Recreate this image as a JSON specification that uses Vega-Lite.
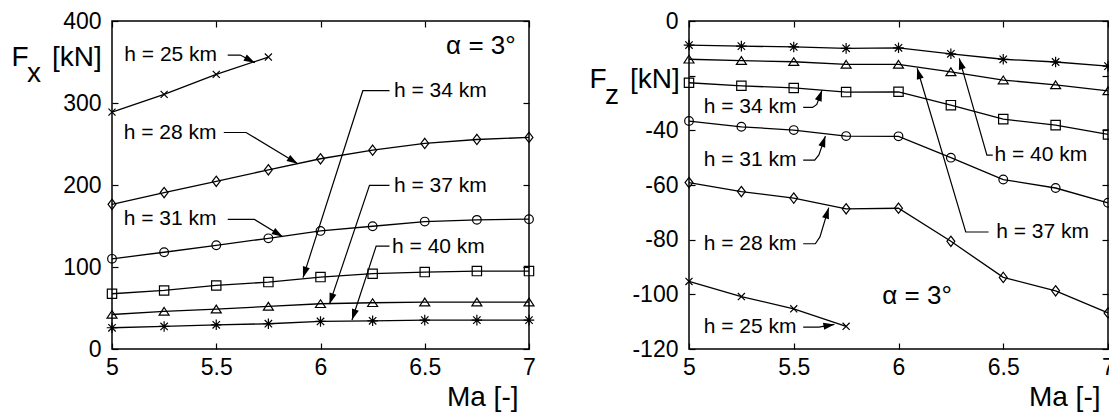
{
  "$schema": "https://vega.github.io/schema/vega-lite/v6.json",
  "padding": {"left": 10, "top": 9, "right": 0, "bottom": 0},
  "background": "white",
  "bounds": "flush",
  "spacing": 160,
  "datasets": {
    "fx": [
      {"h": "25", "Ma": 5, "F": 288.9}, {"h": "25", "Ma": 5.25, "F": 310.5}, {"h": "25", "Ma": 5.5, "F": 334.9}, {"h": "25", "Ma": 5.75, "F": 356},
      {"h": "28", "Ma": 5, "F": 176.5}, {"h": "28", "Ma": 5.25, "F": 190.8}, {"h": "28", "Ma": 5.5, "F": 204.5}, {"h": "28", "Ma": 5.75, "F": 218.5}, {"h": "28", "Ma": 6, "F": 232}, {"h": "28", "Ma": 6.25, "F": 242.5}, {"h": "28", "Ma": 6.5, "F": 250.7}, {"h": "28", "Ma": 6.75, "F": 255.5}, {"h": "28", "Ma": 7, "F": 258},
      {"h": "31", "Ma": 5, "F": 110}, {"h": "31", "Ma": 5.25, "F": 118}, {"h": "31", "Ma": 5.5, "F": 126.5}, {"h": "31", "Ma": 5.75, "F": 135}, {"h": "31", "Ma": 6, "F": 144}, {"h": "31", "Ma": 6.25, "F": 149.7}, {"h": "31", "Ma": 6.5, "F": 155.4}, {"h": "31", "Ma": 6.75, "F": 157.5}, {"h": "31", "Ma": 7, "F": 158.3},
      {"h": "34", "Ma": 5, "F": 67.4}, {"h": "34", "Ma": 5.25, "F": 71.4}, {"h": "34", "Ma": 5.5, "F": 77.5}, {"h": "34", "Ma": 5.75, "F": 81.6}, {"h": "34", "Ma": 6, "F": 87.7}, {"h": "34", "Ma": 6.25, "F": 91.8}, {"h": "34", "Ma": 6.5, "F": 93.8}, {"h": "34", "Ma": 6.75, "F": 95}, {"h": "34", "Ma": 7, "F": 95},
      {"h": "37", "Ma": 5, "F": 42.1}, {"h": "37", "Ma": 5.25, "F": 45.8}, {"h": "37", "Ma": 5.5, "F": 48.6}, {"h": "37", "Ma": 5.75, "F": 51.9}, {"h": "37", "Ma": 6, "F": 55.2}, {"h": "37", "Ma": 6.25, "F": 56.4}, {"h": "37", "Ma": 6.5, "F": 57.2}, {"h": "37", "Ma": 6.75, "F": 57.2}, {"h": "37", "Ma": 7, "F": 57.2},
      {"h": "40", "Ma": 5, "F": 25.9}, {"h": "40", "Ma": 5.25, "F": 27.5}, {"h": "40", "Ma": 5.5, "F": 29.5}, {"h": "40", "Ma": 5.75, "F": 30.8}, {"h": "40", "Ma": 6, "F": 33.6}, {"h": "40", "Ma": 6.25, "F": 34.4}, {"h": "40", "Ma": 6.5, "F": 35.2}, {"h": "40", "Ma": 6.75, "F": 35.2}, {"h": "40", "Ma": 7, "F": 35.2}
    ],
    "fz": [
      {"h": "25", "Ma": 5, "F": -95.3}, {"h": "25", "Ma": 5.25, "F": -100.8}, {"h": "25", "Ma": 5.5, "F": -105.3}, {"h": "25", "Ma": 5.75, "F": -111.7},
      {"h": "28", "Ma": 5, "F": -59.1}, {"h": "28", "Ma": 5.25, "F": -62.4}, {"h": "28", "Ma": 5.5, "F": -64.8}, {"h": "28", "Ma": 5.75, "F": -68.7}, {"h": "28", "Ma": 6, "F": -68.5}, {"h": "28", "Ma": 6.25, "F": -80.6}, {"h": "28", "Ma": 6.5, "F": -93.8}, {"h": "28", "Ma": 6.75, "F": -98.7}, {"h": "28", "Ma": 7, "F": -106.8},
      {"h": "31", "Ma": 5, "F": -36.6}, {"h": "31", "Ma": 5.25, "F": -38.7}, {"h": "31", "Ma": 5.5, "F": -39.9}, {"h": "31", "Ma": 5.75, "F": -42.1}, {"h": "31", "Ma": 6, "F": -42.2}, {"h": "31", "Ma": 6.25, "F": -50}, {"h": "31", "Ma": 6.5, "F": -58}, {"h": "31", "Ma": 6.75, "F": -61.1}, {"h": "31", "Ma": 7, "F": -66.5},
      {"h": "34", "Ma": 5, "F": -22.6}, {"h": "34", "Ma": 5.25, "F": -23.7}, {"h": "34", "Ma": 5.5, "F": -24.5}, {"h": "34", "Ma": 5.75, "F": -26}, {"h": "34", "Ma": 6, "F": -25.9}, {"h": "34", "Ma": 6.25, "F": -30.8}, {"h": "34", "Ma": 6.5, "F": -35.9}, {"h": "34", "Ma": 6.75, "F": -38.1}, {"h": "34", "Ma": 7, "F": -41.5},
      {"h": "37", "Ma": 5, "F": -14}, {"h": "37", "Ma": 5.25, "F": -14.5}, {"h": "37", "Ma": 5.5, "F": -14.9}, {"h": "37", "Ma": 5.75, "F": -15.9}, {"h": "37", "Ma": 6, "F": -15.9}, {"h": "37", "Ma": 6.25, "F": -18.6}, {"h": "37", "Ma": 6.5, "F": -21.6}, {"h": "37", "Ma": 6.75, "F": -23.4}, {"h": "37", "Ma": 7, "F": -25.6},
      {"h": "40", "Ma": 5, "F": -8.8}, {"h": "40", "Ma": 5.25, "F": -9.2}, {"h": "40", "Ma": 5.5, "F": -9.5}, {"h": "40", "Ma": 5.75, "F": -10}, {"h": "40", "Ma": 6, "F": -9.8}, {"h": "40", "Ma": 6.25, "F": -12}, {"h": "40", "Ma": 6.5, "F": -14}, {"h": "40", "Ma": 6.75, "F": -15}, {"h": "40", "Ma": 7, "F": -16.5}
    ],
    "fxlab": [
      {"t": "h = 25 km", "Ma": 5.059, "F": 358.9},
      {"t": "h = 28 km", "Ma": 5.056, "F": 263.5},
      {"t": "h = 31 km", "Ma": 5.056, "F": 158},
      {"t": "h = 34 km", "Ma": 6.352, "F": 314.5},
      {"t": "h = 37 km", "Ma": 6.352, "F": 199},
      {"t": "h = 40 km", "Ma": 6.343, "F": 125}
    ],
    "fzlab": [
      {"t": "h = 34 km", "Ma": 5.07, "F": -31.4},
      {"t": "h = 31 km", "Ma": 5.07, "F": -50.9},
      {"t": "h = 28 km", "Ma": 5.07, "F": -81.5},
      {"t": "h = 25 km", "Ma": 5.07, "F": -112},
      {"t": "h = 40 km", "Ma": 6.458, "F": -49.1},
      {"t": "h = 37 km", "Ma": 6.466, "F": -77.2}
    ],
    "fxlead": [
      {"id": "a25", "o": 1, "Ma": 5.555, "F": 358.5}, {"id": "a25", "o": 2, "Ma": 5.615, "F": 358.5}, {"id": "a25", "o": 3, "Ma": 5.685, "F": 349},
      {"id": "a28", "o": 1, "Ma": 5.536, "F": 264}, {"id": "a28", "o": 2, "Ma": 5.643, "F": 264}, {"id": "a28", "o": 3, "Ma": 5.891, "F": 226},
      {"id": "a31", "o": 1, "Ma": 5.555, "F": 158}, {"id": "a31", "o": 2, "Ma": 5.683, "F": 158}, {"id": "a31", "o": 3, "Ma": 5.819, "F": 137},
      {"id": "a34", "o": 1, "Ma": 6.331, "F": 315}, {"id": "a34", "o": 2, "Ma": 6.203, "F": 315}, {"id": "a34", "o": 3, "Ma": 5.916, "F": 87},
      {"id": "a37", "o": 1, "Ma": 6.331, "F": 199.5}, {"id": "a37", "o": 2, "Ma": 6.235, "F": 199.5}, {"id": "a37", "o": 3, "Ma": 6.043, "F": 54.7},
      {"id": "a40", "o": 1, "Ma": 6.331, "F": 125.5}, {"id": "a40", "o": 2, "Ma": 6.267, "F": 125.5}, {"id": "a40", "o": 3, "Ma": 6.151, "F": 35.3}
    ],
    "fzlead": [
      {"id": "b34", "o": 1, "Ma": 5.545, "F": -31.6}, {"id": "b34", "o": 2, "Ma": 5.59, "F": -31.6}, {"id": "b34", "o": 3, "Ma": 5.61, "F": -30.5}, {"id": "b34", "o": 4, "Ma": 5.635, "F": -25.3},
      {"id": "b31", "o": 1, "Ma": 5.545, "F": -50.9}, {"id": "b31", "o": 2, "Ma": 5.6, "F": -50.9}, {"id": "b31", "o": 3, "Ma": 5.62, "F": -49}, {"id": "b31", "o": 4, "Ma": 5.651, "F": -42.1},
      {"id": "b28", "o": 1, "Ma": 5.545, "F": -81.5}, {"id": "b28", "o": 2, "Ma": 5.603, "F": -81.5}, {"id": "b28", "o": 3, "Ma": 5.625, "F": -79}, {"id": "b28", "o": 4, "Ma": 5.667, "F": -68.3},
      {"id": "b25", "o": 1, "Ma": 5.545, "F": -112}, {"id": "b25", "o": 2, "Ma": 5.62, "F": -112}, {"id": "b25", "o": 3, "Ma": 5.694, "F": -111},
      {"id": "b40", "o": 1, "Ma": 6.45, "F": -49.1}, {"id": "b40", "o": 2, "Ma": 6.422, "F": -49.1}, {"id": "b40", "o": 3, "Ma": 6.29, "F": -13.7},
      {"id": "b37", "o": 1, "Ma": 6.43, "F": -77.2}, {"id": "b37", "o": 2, "Ma": 6.321, "F": -77.2}, {"id": "b37", "o": 3, "Ma": 6.089, "F": -17.3}
    ],
    "fxhead": [
      {"Ma": 5.685, "F": 349, "dir": 28},
      {"Ma": 5.891, "F": 226, "dir": 31},
      {"Ma": 5.819, "F": 137, "dir": 31},
      {"Ma": 5.916, "F": 87, "dir": 107.7},
      {"Ma": 6.043, "F": 54.7, "dir": 108.6},
      {"Ma": 6.151, "F": 35.3, "dir": 108.1}
    ],
    "fzhead": [
      {"Ma": 5.635, "F": -25.3, "dir": -70},
      {"Ma": 5.651, "F": -42.1, "dir": -71},
      {"Ma": 5.667, "F": -68.3, "dir": -73},
      {"Ma": 5.694, "F": -111, "dir": -10},
      {"Ma": 6.29, "F": -13.7, "dir": -106},
      {"Ma": 6.089, "F": -17.3, "dir": -106.5}
    ]
  },
  "hconcat": [
    {
      "width": 417,
      "height": 328,
      "layer": [
        {
          "data": {"name": "fx"},
          "mark": {"type": "line", "color": "black", "strokeWidth": 1.3},
          "encoding": {
            "x": {"field": "Ma", "type": "quantitative", "scale": {"domain": [5, 7], "nice": false, "zero": false},
              "axis": {"orient": "bottom", "values": [5, 5.5, 6, 6.5, 7], "labelExpr": "'' + datum.value", "title": "Ma [-]", "titleX": 406, "titleY": 56, "titleAlign": "right", "titleBaseline": "alphabetic", "titleAnchor": null}},
            "y": {"field": "F", "type": "quantitative", "scale": {"domain": [0, 400], "nice": false, "zero": false},
              "axis": {"orient": "left", "values": [0, 100, 200, 300, 400], "labelExpr": "'' + datum.value", "title": ["F\u00a0\u00a0\u00a0[kN]", "\u200b\u00a0\u00a0x"], "titleAngle": 0, "titleX": -101, "titleY": 22, "titleAlign": "left", "titleBaseline": "top", "titleLineHeight": 16, "titleAnchor": null}},
            "detail": {"field": "h", "type": "nominal"}
          }
        },
        {
          "data": {"name": "fx"},
          "mark": {"type": "point", "filled": false, "color": "black", "strokeWidth": 1.2, "opacity": 1},
          "encoding": {
            "x": {"field": "Ma", "type": "quantitative", "axis": {"orient": "top", "values": [5, 5.5, 6, 6.5, 7], "labels": false, "title": null}},
            "y": {"field": "F", "type": "quantitative", "axis": {"orient": "right", "values": [0, 100, 200, 300, 400], "labels": false, "title": null}},
            "shape": {"field": "h", "type": "nominal", "legend": null, "scale": {"domain": ["25", "28", "31", "34", "37", "40"], "range": ["M-1,-1L1,1M-1,1L1,-1", "M0,-1.3L1,0L0,1.3L-1,0Z", "circle", "square", "M0,-0.8L1,0.75L-1,0.75Z", "M0,-1L0,1M-1,0L1,0M-0.7,-0.7L0.7,0.7M-0.7,0.7L0.7,-0.7"]}},
            "size": {"field": "h", "type": "nominal", "legend": null, "scale": {"domain": ["25", "28", "31", "34", "37", "40"], "range": [50, 112, 110, 64, 128, 64]}}
          }
        },
        {
          "data": {"name": "fxlab"},
          "mark": {"type": "text", "align": "left", "baseline": "middle", "fontSize": 21, "font": "Liberation Sans", "color": "black"},
          "encoding": {
            "x": {"field": "Ma", "type": "quantitative", "axis": null},
            "y": {"field": "F", "type": "quantitative", "axis": null},
            "text": {"field": "t"}
          }
        },
        {
          "data": {"name": "fxlead"},
          "mark": {"type": "line", "color": "black", "strokeWidth": 1.2},
          "encoding": {
            "x": {"field": "Ma", "type": "quantitative", "axis": null},
            "y": {"field": "F", "type": "quantitative", "axis": null},
            "detail": {"field": "id"},
            "order": {"field": "o"}
          }
        },
        {
          "data": {"name": "fxhead"},
          "mark": {"type": "point", "filled": true, "color": "black", "opacity": 1, "shape": "M0,0L-2,-0.65L-2,0.65Z", "size": 121},
          "encoding": {
            "x": {"field": "Ma", "type": "quantitative", "axis": null},
            "y": {"field": "F", "type": "quantitative", "axis": null},
            "angle": {"field": "dir", "type": "quantitative", "scale": null}
          }
        },
        {
          "data": {"values": [{"Ma": 6.936, "F": 369.5, "t": "α = 3°"}]},
          "mark": {"type": "text", "align": "right", "baseline": "middle", "fontSize": 26, "font": "Liberation Sans", "color": "black"},
          "encoding": {
            "x": {"field": "Ma", "type": "quantitative", "axis": null},
            "y": {"field": "F", "type": "quantitative", "axis": null},
            "text": {"field": "t"}
          }
        }
      ]
    },
    {
      "width": 419,
      "height": 328,
      "layer": [
        {
          "data": {"name": "fz"},
          "mark": {"type": "line", "color": "black", "strokeWidth": 1.3},
          "encoding": {
            "x": {"field": "Ma", "type": "quantitative", "scale": {"domain": [5, 7], "nice": false, "zero": false},
              "axis": {"orient": "bottom", "values": [5, 5.5, 6, 6.5, 7], "labelExpr": "'' + datum.value", "title": "Ma [-]", "titleX": 411, "titleY": 56, "titleAlign": "right", "titleBaseline": "alphabetic", "titleAnchor": null}},
            "y": {"field": "F", "type": "quantitative", "scale": {"domain": [-120, 0], "nice": false, "zero": false},
              "axis": {"orient": "left", "values": [-120, -100, -80, -60, -40, -20, 0], "labelExpr": "datum.value == -20 ? '' : '' + datum.value", "title": ["F\u00a0\u00a0\u00a0[kN]", "\u200b\u00a0\u00a0z"], "titleAngle": 0, "titleX": -100, "titleY": 44, "titleAlign": "left", "titleBaseline": "top", "titleLineHeight": 16, "titleAnchor": null}},
            "detail": {"field": "h", "type": "nominal"}
          }
        },
        {
          "data": {"name": "fz"},
          "mark": {"type": "point", "filled": false, "color": "black", "strokeWidth": 1.2, "opacity": 1},
          "encoding": {
            "x": {"field": "Ma", "type": "quantitative", "axis": {"orient": "top", "values": [5, 5.5, 6, 6.5, 7], "labels": false, "title": null}},
            "y": {"field": "F", "type": "quantitative", "axis": {"orient": "right", "values": [-120, -100, -80, -60, -40, -20, 0], "labels": false, "title": null}},
            "shape": {"field": "h", "type": "nominal", "legend": null, "scale": {"domain": ["25", "28", "31", "34", "37", "40"], "range": ["M-1,-1L1,1M-1,1L1,-1", "M0,-1.3L1,0L0,1.3L-1,0Z", "circle", "square", "M0,-0.8L1,0.75L-1,0.75Z", "M0,-1L0,1M-1,0L1,0M-0.7,-0.7L0.7,0.7M-0.7,0.7L0.7,-0.7"]}},
            "size": {"field": "h", "type": "nominal", "legend": null, "scale": {"domain": ["25", "28", "31", "34", "37", "40"], "range": [50, 112, 110, 64, 128, 64]}}
          }
        },
        {
          "data": {"name": "fzlab"},
          "mark": {"type": "text", "align": "left", "baseline": "middle", "fontSize": 21, "font": "Liberation Sans", "color": "black"},
          "encoding": {
            "x": {"field": "Ma", "type": "quantitative", "axis": null},
            "y": {"field": "F", "type": "quantitative", "axis": null},
            "text": {"field": "t"}
          }
        },
        {
          "data": {"name": "fzlead"},
          "mark": {"type": "line", "color": "black", "strokeWidth": 1.2},
          "encoding": {
            "x": {"field": "Ma", "type": "quantitative", "axis": null},
            "y": {"field": "F", "type": "quantitative", "axis": null},
            "detail": {"field": "id"},
            "order": {"field": "o"}
          }
        },
        {
          "data": {"name": "fzhead"},
          "mark": {"type": "point", "filled": true, "color": "black", "opacity": 1, "shape": "M0,0L-2,-0.65L-2,0.65Z", "size": 121},
          "encoding": {
            "x": {"field": "Ma", "type": "quantitative", "axis": null},
            "y": {"field": "F", "type": "quantitative", "axis": null},
            "angle": {"field": "dir", "type": "quantitative", "scale": null}
          }
        },
        {
          "data": {"values": [{"Ma": 5.923, "F": -100.7, "t": "α = 3°"}]},
          "mark": {"type": "text", "align": "left", "baseline": "middle", "fontSize": 26, "font": "Liberation Sans", "color": "black"},
          "encoding": {
            "x": {"field": "Ma", "type": "quantitative", "axis": null},
            "y": {"field": "F", "type": "quantitative", "axis": null},
            "text": {"field": "t"}
          }
        }
      ]
    }
  ],
  "config": {
    "view": {"stroke": "black", "strokeWidth": 1.5},
    "axis": {
      "grid": false,
      "domain": false,
      "ticks": true,
      "tickSize": -6,
      "tickColor": "black",
      "tickWidth": 1.2,
      "labelFont": "Liberation Sans",
      "labelFontSize": 23,
      "labelColor": "black",
      "labelOverlap": false,
      "labelFlush": false,
      "titleFont": "Liberation Sans",
      "titleFontSize": 28,
      "titleFontWeight": "normal",
      "titleColor": "black"
    },
    "axisX": {"labelPadding": 13},
    "axisY": {"labelPadding": 17}
  }
}
